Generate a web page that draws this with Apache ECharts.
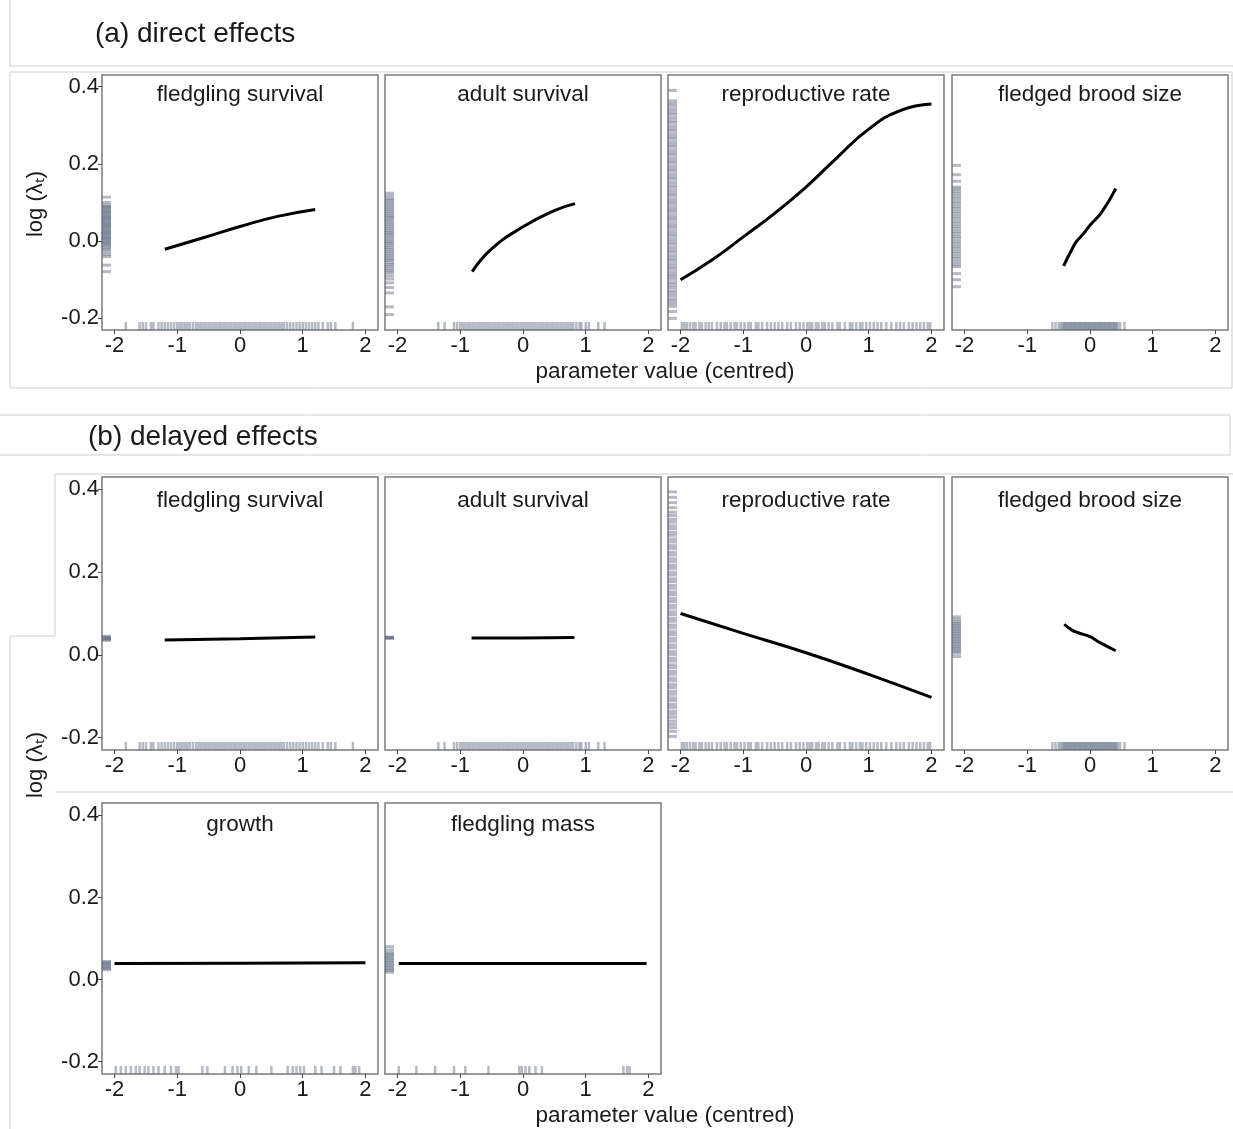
<!DOCTYPE html>
<html>
<head>
<meta charset="utf-8">
<script src="https://cdn.jsdelivr.net/npm/echarts@6/dist/echarts.min.js"></script>
<style>
  html, body { margin: 0; padding: 0; background: #fff; }
  #chart { width: 1233px; height: 1129px; }
</style>
</head>
<body>
<div id="chart"></div>
<script>
// fitted curves, [parameter value, log(lambda)]
const directFledglingSurvival = [[-1.2, -0.021], [-0.6, 0.008], [0, 0.038], [0.6, 0.064], [1.2, 0.082]]
const directAdultSurvival = [[-0.81, -0.079], [-0.5, -0.02], [0, 0.037], [0.5, 0.079], [0.83, 0.097]]
const directReproRate = [[-2, -0.1], [-1.5, -0.049], [-1, 0.011], [-0.5, 0.072], [0, 0.14], [0.5, 0.217], [1, 0.29], [1.5, 0.338], [2, 0.355]]
const directBroodSize = [[-0.42, -0.064], [-0.3, -0.025], [-0.22, -0.002], [-0.1, 0.02], [0, 0.041], [0.19, 0.076], [0.41, 0.136]]
const delayedFledglingSurvival = [[-1.2, 0.036], [0, 0.039], [1.2, 0.043]]
const delayedAdultSurvival = [[-0.82, 0.041], [0, 0.041], [0.82, 0.042]]
const delayedReproRate = [[-2, 0.1], [-1, 0.052], [0, 0.005], [1, -0.047], [2, -0.103]]
const delayedBroodSize = [[-0.41, 0.074], [-0.3, 0.061], [-0.2, 0.054], [0, 0.044], [0.13, 0.032], [0.41, 0.01]]
const delayedGrowth = [[-2, 0.039], [0, 0.04], [2, 0.041]]
const delayedFledglingMass = [[-1.98, 0.039], [0, 0.039], [1.97, 0.039]]

// rug of observed parameter values (x)
const rugXFledglingSurvival = [-1.82, -1.6, -1.55, -1.5, -1.42, -1.38, -1.3, -1.25, -1.2, -1.15, -1.1, -1.05, -1.0, -0.96, -0.92, -0.88, -0.84, -0.8, -0.75, -0.7, -0.66, -0.62, -0.58, -0.54, -0.5, -0.46, -0.42, -0.38, -0.34, -0.3, -0.26, -0.22, -0.18, -0.14, -0.1, -0.06, -0.02, 0.02, 0.06, 0.1, 0.14, 0.18, 0.22, 0.26, 0.3, 0.34, 0.38, 0.42, 0.46, 0.5, 0.54, 0.58, 0.62, 0.66, 0.7, 0.75, 0.8, 0.85, 0.9, 0.95, 1.0, 1.05, 1.1, 1.15, 1.2, 1.25, 1.32, 1.4, 1.45, 1.52, 1.8]
const rugXAdultSurvival = [-1.35, -1.25, -1.1, -1.05, -1.0, -0.96, -0.92, -0.88, -0.84, -0.8, -0.76, -0.72, -0.68, -0.64, -0.6, -0.56, -0.52, -0.48, -0.44, -0.4, -0.36, -0.32, -0.28, -0.24, -0.2, -0.16, -0.12, -0.08, -0.04, 0.0, 0.04, 0.08, 0.12, 0.16, 0.2, 0.24, 0.28, 0.32, 0.36, 0.4, 0.44, 0.48, 0.52, 0.56, 0.6, 0.64, 0.68, 0.72, 0.76, 0.8, 0.85, 0.9, 0.93, 1.0, 1.05, 1.2, 1.3]
const rugXReproRate = [-1.98, -1.94, -1.9, -1.85, -1.8, -1.76, -1.7, -1.66, -1.6, -1.55, -1.5, -1.42, -1.36, -1.3, -1.26, -1.2, -1.14, -1.1, -1.04, -0.98, -0.92, -0.88, -0.8, -0.76, -0.7, -0.62, -0.56, -0.5, -0.44, -0.38, -0.3, -0.24, -0.16, -0.1, -0.04, 0.02, 0.06, 0.1, 0.16, 0.2, 0.26, 0.3, 0.36, 0.42, 0.5, 0.54, 0.62, 0.7, 0.74, 0.8, 0.86, 0.9, 0.96, 1.02, 1.08, 1.14, 1.2, 1.28, 1.36, 1.44, 1.5, 1.56, 1.64, 1.7, 1.76, 1.82, 1.88, 1.94, 1.98]
const rugXBroodSize = [-0.6, -0.55, -0.5, -0.47, -0.44, -0.42, -0.4, -0.38, -0.36, -0.34, -0.32, -0.3, -0.28, -0.26, -0.24, -0.22, -0.2, -0.18, -0.16, -0.14, -0.12, -0.1, -0.08, -0.06, -0.04, -0.02, 0.0, 0.02, 0.04, 0.06, 0.08, 0.1, 0.12, 0.14, 0.16, 0.18, 0.2, 0.22, 0.24, 0.26, 0.28, 0.3, 0.32, 0.34, 0.36, 0.38, 0.4, 0.42, 0.44, 0.48, 0.55]
const rugXGrowth = [-1.98, -1.9, -1.82, -1.74, -1.66, -1.6, -1.52, -1.46, -1.38, -1.3, -1.2, -1.1, -1.02, -0.98, -0.6, -0.52, -0.24, -0.12, -0.04, 0.02, 0.14, 0.26, 0.5, 0.76, 0.84, 0.9, 0.96, 1.02, 1.2, 1.3, 1.5, 1.6, 1.8, 1.84, 1.9]
const rugXFledglingMass = [-1.98, -1.7, -1.4, -1.1, -0.92, -0.55, -0.06, -0.02, 0.04, 0.1, 0.2, 0.3, 1.6, 1.66, 1.7]

// rug of observed log(lambda) (y)
const rugYDirectFledglingSurvival = [-0.079, -0.062, -0.04, -0.035, -0.028, -0.022, -0.018, -0.013, -0.01, -0.006, -0.003, 0.0, 0.004, 0.007, 0.01, 0.013, 0.017, 0.02, 0.023, 0.026, 0.029, 0.033, 0.036, 0.039, 0.042, 0.045, 0.048, 0.052, 0.055, 0.058, 0.061, 0.064, 0.067, 0.071, 0.074, 0.077, 0.08, 0.084, 0.087, 0.09, 0.093, 0.1, 0.114]
const rugYDirectAdultSurvival = [-0.19, -0.17, -0.134, -0.12, -0.108, -0.098, -0.09, -0.082, -0.077, -0.072, -0.066, -0.061, -0.056, -0.05, -0.046, -0.041, -0.036, -0.031, -0.026, -0.021, -0.016, -0.011, -0.006, -0.002, 0.003, 0.008, 0.013, 0.018, 0.022, 0.027, 0.032, 0.037, 0.042, 0.047, 0.052, 0.057, 0.062, 0.066, 0.071, 0.076, 0.081, 0.086, 0.091, 0.096, 0.101, 0.106, 0.11, 0.117, 0.124]
const rugYDirectReproRate = [-0.2, -0.182, -0.169, -0.162, -0.155, -0.149, -0.141, -0.134, -0.128, -0.12, -0.113, -0.107, -0.099, -0.092, -0.086, -0.079, -0.071, -0.065, -0.058, -0.05, -0.044, -0.037, -0.029, -0.023, -0.016, -0.008, -0.002, 0.005, 0.013, 0.019, 0.026, 0.034, 0.04, 0.047, 0.055, 0.061, 0.068, 0.076, 0.082, 0.089, 0.097, 0.103, 0.11, 0.118, 0.124, 0.131, 0.139, 0.145, 0.152, 0.16, 0.166, 0.173, 0.181, 0.187, 0.194, 0.202, 0.208, 0.215, 0.223, 0.229, 0.236, 0.244, 0.25, 0.257, 0.265, 0.271, 0.278, 0.286, 0.292, 0.299, 0.307, 0.313, 0.32, 0.328, 0.334, 0.341, 0.349, 0.356, 0.363, 0.39]
const rugYDirectBroodSize = [-0.118, -0.1, -0.084, -0.066, -0.06, -0.053, -0.046, -0.04, -0.033, -0.027, -0.02, -0.014, -0.007, -0.001, 0.006, 0.012, 0.019, 0.025, 0.032, 0.038, 0.045, 0.051, 0.058, 0.064, 0.071, 0.077, 0.084, 0.09, 0.097, 0.103, 0.11, 0.116, 0.123, 0.129, 0.135, 0.14, 0.155, 0.172, 0.196]
const rugYDelayedFledglingSurvival = [0.035, 0.037, 0.039, 0.041, 0.043, 0.045]
const rugYDelayedAdultSurvival = [0.04, 0.041, 0.042, 0.043]
const rugYDelayedReproRate = [-0.197, -0.185, -0.176, -0.168, -0.16, -0.151, -0.143, -0.136, -0.127, -0.12, -0.111, -0.104, -0.095, -0.088, -0.079, -0.072, -0.063, -0.056, -0.047, -0.04, -0.031, -0.024, -0.015, -0.008, 0.001, 0.008, 0.017, 0.024, 0.033, 0.04, 0.049, 0.056, 0.065, 0.072, 0.081, 0.088, 0.097, 0.104, 0.113, 0.12, 0.129, 0.136, 0.145, 0.152, 0.161, 0.168, 0.177, 0.184, 0.193, 0.2, 0.209, 0.216, 0.225, 0.232, 0.241, 0.248, 0.257, 0.264, 0.273, 0.28, 0.289, 0.296, 0.305, 0.312, 0.321, 0.328, 0.337, 0.345, 0.356, 0.368, 0.381, 0.394]
const rugYDelayedBroodSize = [-0.004, 0.004, 0.008, 0.012, 0.016, 0.02, 0.024, 0.028, 0.032, 0.036, 0.04, 0.044, 0.048, 0.052, 0.056, 0.06, 0.064, 0.068, 0.072, 0.076, 0.08, 0.086, 0.092]
const rugYDelayedGrowth = [0.024, 0.027, 0.03, 0.033, 0.036, 0.039, 0.042, 0.044]
const rugYDelayedFledglingMass = [0.018, 0.022, 0.026, 0.03, 0.034, 0.038, 0.042, 0.046, 0.05, 0.054, 0.058, 0.062, 0.065, 0.072, 0.08]

const xTicks = [-2, -1, 0, 1, 2]
const yTicks = [-0.2, 0, 0.2, 0.4]
const xRange = [-2.2, 2.2]
const yRange = [-0.23, 0.43]

const FONT = 'Liberation Sans, Arial, Helvetica, sans-serif'
const RUG = 'rgba(92,106,130,0.58)'

// panel layout in px
const rows = [
  { top: 75, height: 255, stripY: 95 },
  { top: 477, height: 273, stripY: 501 },
  { top: 803, height: 271, stripY: 825 }
]
const cols = [102, 385, 668, 952]
const panelWidth = 276

const panels = [
  { row: 0, col: 0, title: 'fledgling survival', curve: directFledglingSurvival, rugX: rugXFledglingSurvival, rugY: rugYDirectFledglingSurvival },
  { row: 0, col: 1, title: 'adult survival', curve: directAdultSurvival, rugX: rugXAdultSurvival, rugY: rugYDirectAdultSurvival },
  { row: 0, col: 2, title: 'reproductive rate', curve: directReproRate, rugX: rugXReproRate, rugY: rugYDirectReproRate },
  { row: 0, col: 3, title: 'fledged brood size', curve: directBroodSize, rugX: rugXBroodSize, rugY: rugYDirectBroodSize },
  { row: 1, col: 0, title: 'fledgling survival', curve: delayedFledglingSurvival, rugX: rugXFledglingSurvival, rugY: rugYDelayedFledglingSurvival },
  { row: 1, col: 1, title: 'adult survival', curve: delayedAdultSurvival, rugX: rugXAdultSurvival, rugY: rugYDelayedAdultSurvival },
  { row: 1, col: 2, title: 'reproductive rate', curve: delayedReproRate, rugX: rugXReproRate, rugY: rugYDelayedReproRate },
  { row: 1, col: 3, title: 'fledged brood size', curve: delayedBroodSize, rugX: rugXBroodSize, rugY: rugYDelayedBroodSize },
  { row: 2, col: 0, title: 'growth', curve: delayedGrowth, rugX: rugXGrowth, rugY: rugYDelayedGrowth },
  { row: 2, col: 1, title: 'fledgling mass', curve: delayedFledglingMass, rugX: rugXFledglingMass, rugY: rugYDelayedFledglingMass }
]

const chart = echarts.init(document.getElementById('chart'))

const grid = []
const xAxis = []
const yAxis = []
const series = []
const graphic = []

const text = (x, y, str, size, extra) => ({
  type: 'text', x, y, silent: true,
  style: Object.assign({ text: str, font: size + 'px ' + FONT, fill: '#1a1a1a', textAlign: 'center', textVerticalAlign: 'middle' }, extra || {})
})
const poly = (points) => ({
  type: 'polyline', silent: true, z: -1,
  shape: { points },
  style: { stroke: '#cfcfcf', lineWidth: 1, fill: null }
})

// the light frames around the figure parts
graphic.push(poly([[10, 0], [10, 66], [1233, 66]]))
graphic.push(poly([[10, 72], [1232, 72], [1232, 388], [10, 388], [10, 72]]))
graphic.push(poly([[0, 415], [1230, 415], [1230, 455], [0, 455]]))
graphic.push(poly([[1233, 474], [55, 474], [55, 636], [10, 636], [10, 1129]]))
graphic.push(poly([[55, 792], [1233, 792]]))

graphic.push(text(95, 34, '(a) direct effects', 28, { textAlign: 'left' }))
graphic.push(text(88, 437, '(b) delayed effects', 28, { textAlign: 'left' }))
graphic.push(text(665, 372, 'parameter value (centred)', 22.5))
graphic.push(text(665, 1116, 'parameter value (centred)', 22.5))
graphic.push(Object.assign(text(0, 0, 'log (λₜ)', 22), { x: 36, y: 204, rotation: Math.PI / 2 }))
graphic.push(Object.assign(text(0, 0, 'log (λₜ)', 22), { x: 36, y: 765, rotation: Math.PI / 2 }))

panels.forEach((p, i) => {
  const r = rows[p.row]
  const left = cols[p.col]
  grid.push({
    left, top: r.top, width: panelWidth, height: r.height,
    show: true, borderColor: '#7a7a7a', borderWidth: 1.5, backgroundColor: '#fff'
  })
  xAxis.push({
    gridIndex: i, type: 'value', min: xRange[0], max: xRange[1],
    axisLine: { show: false, onZero: false },
    splitLine: { show: false },
    axisTick: { show: true, customValues: xTicks, length: 4, lineStyle: { color: '#444' } },
    axisLabel: { customValues: xTicks, fontSize: 22, color: '#1a1a1a', margin: 5, fontFamily: FONT }
  })
  const showY = p.col === 0
  yAxis.push({
    gridIndex: i, type: 'value', min: yRange[0], max: yRange[1],
    axisLine: { show: false, onZero: false },
    splitLine: { show: false },
    axisTick: { show: showY, customValues: yTicks, length: 4, lineStyle: { color: '#444' } },
    axisLabel: {
      show: showY, customValues: yTicks, fontSize: 22, color: '#1a1a1a', margin: 3, fontFamily: FONT,
      formatter: (v) => v.toFixed(1)
    }
  })
  graphic.push(text(left + panelWidth / 2, r.stripY, p.title, 22.5))

  series.push({
    type: 'scatter', xAxisIndex: i, yAxisIndex: i, silent: true,
    symbol: 'rect', symbolSize: [2.5, 8], symbolOffset: [0, -4],
    itemStyle: { color: RUG },
    data: p.rugX.map(v => [v, yRange[0]])
  })
  series.push({
    type: 'scatter', xAxisIndex: i, yAxisIndex: i, silent: true,
    symbol: 'rect', symbolSize: [9, 3], symbolOffset: [4.5, 0],
    itemStyle: { color: RUG },
    data: p.rugY.map(v => [xRange[0], v])
  })
  series.push({
    type: 'line', xAxisIndex: i, yAxisIndex: i, silent: true,
    smooth: true, showSymbol: false, symbol: 'none',
    lineStyle: { color: '#000', width: 3 },
    data: p.curve
  })
})

chart.setOption({
  animation: false,
  backgroundColor: '#fff',
  grid, xAxis, yAxis, series, graphic
})
</script>
</body>
</html>
